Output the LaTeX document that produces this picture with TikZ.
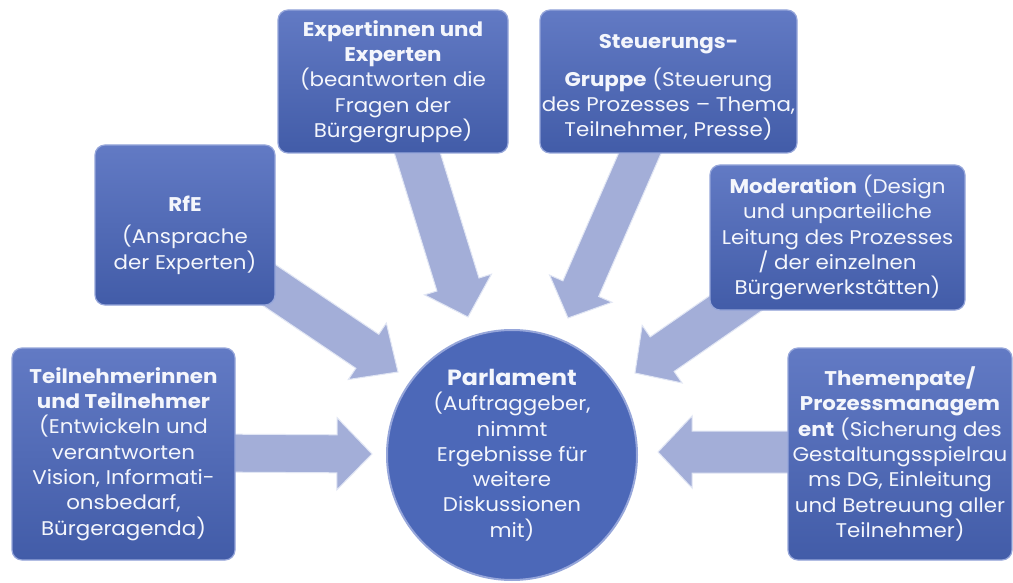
\documentclass[tikz,border=0pt]{standalone}
\usepackage{fontspec}
\setmainfont{Poppins}[FakeStretch=1.08]
\usetikzlibrary{calc}
\definecolor{boxtop}{RGB}{98,122,196}
\definecolor{boxbot}{RGB}{66,92,168}
\definecolor{boxedge}{RGB}{150,166,218}
\definecolor{arrowcol}{RGB}{163,174,216}
\definecolor{arrowedge}{RGB}{225,230,244}
\definecolor{circfill}{RGB}{76,104,184}
\definecolor{txtcol}{RGB}{244,246,252}
\tikzset{
  bluebox/.style={rounded corners=10pt, top color=boxtop, bottom color=boxbot,
    draw=boxedge, line width=1.2pt, align=center, text=txtcol,
    font=\fontsize{19.8}{25.3}\selectfont, inner sep=1pt},
  hubcircle/.style={circle, fill=circfill, draw=boxedge, line width=2pt,
    align=center, text=txtcol, font=\fontsize{19.8}{25.3}\selectfont, inner sep=0pt},
  fatarrowstyle/.style={fill=arrowcol, draw=arrowedge, line width=1pt, line join=miter}
}
\newcommand\blockarrow[5]{%
  \coordinate (ba-h) at ($(#2)!#5!(#1)$);
  \path[fatarrowstyle] ($(#1)!#3!90:(#2)$) -- ($(ba-h)!#3!90:(#2)$) --
    ($(ba-h)!#4!90:(#2)$) -- (#2) -- ($(ba-h)!#4!-90:(#2)$) --
    ($(ba-h)!#3!-90:(#2)$) -- ($(#1)!#3!-90:(#2)$) -- cycle;
}
\begin{document}
\begin{tikzpicture}[x=1pt,y=-1pt]
\useasboundingbox (0,0) rectangle (1013,583);
\fill[white] (0,0) rectangle (1013,583);
% arrow end points
\coordinate (tn-s) at (200,453);   \coordinate (tn-t) at (372,454);
\coordinate (th-s) at (850,452);   \coordinate (th-t) at (658,452);
\coordinate (ex-s) at (400,97);    \coordinate (ex-t) at (468,317);
\coordinate (st-s) at (660,107);   \coordinate (st-t) at (568,318);
\coordinate (rf-s) at (232,260);   \coordinate (rf-t) at (398,372);
\coordinate (mo-s) at (824,242);   \coordinate (mo-t) at (635,373);
% arrows
\blockarrow{tn-s}{tn-t}{19pt}{36pt}{35pt}
\blockarrow{th-s}{th-t}{21pt}{36pt}{34pt}
\blockarrow{ex-s}{ex-t}{22pt}{35pt}{34pt}
\blockarrow{st-s}{st-t}{19.5pt}{34pt}{32pt}
\blockarrow{rf-s}{rf-t}{20.5pt}{34pt}{37pt}
\blockarrow{mo-s}{mo-t}{21pt}{35pt}{33pt}
% boxes
\node[bluebox, minimum width=223pt, minimum height=212pt] (tn) at (123.5,454)
  {\textbf{Teilnehmerinnen}\\\textbf{und Teilnehmer}\\(Entwickeln und\\verantworten\\Vision, Informati-\\onsbedarf,\\Bürgeragenda)};
\node[bluebox, minimum width=180pt, minimum height=160pt] (rfe) at (185,225)
  {\rule{0pt}{36pt}\textbf{RfE}\\[7pt](Ansprache\\der Experten)};
\node[bluebox, minimum width=230pt, minimum height=143pt] (exp) at (393,81.5)
  {\textbf{Expertinnen und}\\\textbf{Experten}\\(beantworten die\\Fragen der\\Bürgergruppe)};
\node[bluebox, minimum width=257pt, minimum height=143pt] (steu) at (668.5,81.5)
  {\rule{0pt}{26pt}\textbf{Steuerungs-}\\[12pt]\textbf{Gruppe} (Steuerung\\des Prozesses – Thema,\\Teilnehmer, Presse)};
\node[bluebox, minimum width=255pt, minimum height=145pt] (mod) at (837.5,237.5)
  {\textbf{Moderation} (Design\\und unparteiliche\\Leitung des Prozesses\\/ der einzelnen\\Bürgerwerkstätten)};
\node[bluebox, minimum width=224pt, minimum height=212pt] (them) at (900,454)
  {\textbf{Themenpate/}\\\textbf{Prozessmanagem}\\\textbf{ent} (Sicherung des\\Gestaltungsspielrau\\ms DG, Einleitung\\und Betreuung aller\\Teilnehmer)};
\node[hubcircle, minimum size=250pt] (parl) at (512,455)
  {{\fontsize{22}{25.3}\selectfont\textbf{Parlament}}\\(Auftraggeber,\\nimmt\\Ergebnisse für\\weitere\\Diskussionen\\mit)};
\end{tikzpicture}
\end{document}
